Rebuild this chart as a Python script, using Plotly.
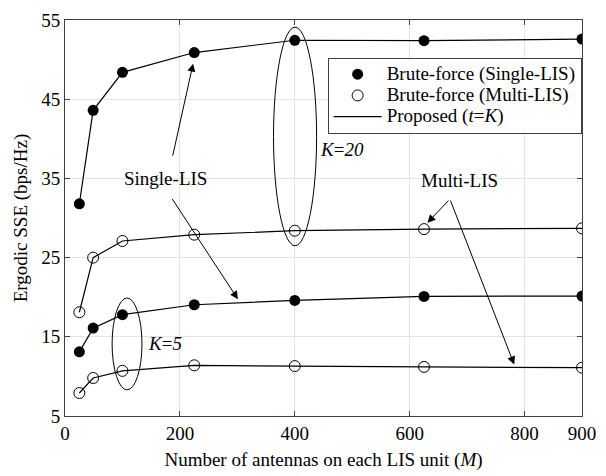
import plotly.graph_objects as go

# Number of antennas per LIS unit
M = [25, 49, 100, 225, 400, 625, 900]

# Ergodic SSE (bps/Hz)
single_k20 = [31.8, 43.6, 48.4, 50.9, 52.45, 52.4, 52.6]
multi_k20 = [18.1, 25.0, 27.1, 27.9, 28.4, 28.6, 28.7]
single_k5 = [13.1, 16.1, 17.8, 19.05, 19.6, 20.1, 20.15]
multi_k5 = [7.9, 9.8, 10.7, 11.4, 11.3, 11.2, 11.1]

x_ticks = [0, 200, 400, 600, 800, 900]
y_ticks = [5, 15, 25, 35, 45, 55]

FONT = "Liberation Serif, Times New Roman, serif"
INK = "black"


def big(s):
    # legend labels keep a compact row height but a larger glyph size
    return '<span style="font-size:19px">' + s + "</span>"


fig = go.Figure()

# proposed scheme (solid lines)
for i, ys in enumerate([single_k20, multi_k20, single_k5, multi_k5]):
    fig.add_trace(go.Scatter(
        x=M, y=ys, mode="lines",
        line=dict(color=INK, width=1.2),
        name=big("Proposed (<i>t</i>=<i>K</i>)"),
        showlegend=(i == 0), legendrank=3,
    ))

# brute-force, single LIS (filled markers)
for i, ys in enumerate([single_k20, single_k5]):
    fig.add_trace(go.Scatter(
        x=M, y=ys, mode="markers",
        marker=dict(symbol="circle", size=11, color=INK),
        name=big("Brute-force (Single-LIS)"),
        showlegend=(i == 0), legendrank=1,
    ))

# brute-force, multi LIS (open markers)
for i, ys in enumerate([multi_k20, multi_k5]):
    fig.add_trace(go.Scatter(
        x=M, y=ys, mode="markers",
        marker=dict(symbol="circle-open", size=11, color=INK, line=dict(width=1)),
        name=big("Brute-force (Multi-LIS)"),
        showlegend=(i == 0), legendrank=2,
    ))

axis_common = dict(
    showline=True, linecolor="#404040", linewidth=1, mirror="ticks",
    ticks="inside", ticklen=5, tickcolor="#404040",
    showgrid=True, gridcolor="#e3e3e3", gridwidth=1,
    zeroline=False,
    tickfont=dict(family=FONT, size=19, color=INK),
)

fig.update_xaxes(
    range=[0, 900.01], tickvals=x_ticks,
    title=dict(text="Number of antennas on each LIS unit (<i>M</i>)",
               font=dict(family=FONT, size=19, color=INK), standoff=9),
    **axis_common,
)
fig.update_yaxes(
    range=[4.999, 55.01], tickvals=y_ticks,
    title=dict(text="Ergodic SSE (bps/Hz)",
               font=dict(family=FONT, size=19, color=INK), standoff=8),
    **axis_common,
)

# grouping ellipses
fig.add_shape(type="circle", xref="x", yref="y", x0=363, x1=438, y0=26.5, y1=54.1,
              line=dict(color=INK, width=1))
fig.add_shape(type="circle", xref="x", yref="y", x0=82, x1=134, y0=8.3, y1=19.9,
              line=dict(color=INK, width=1))

txt = dict(family=FONT, size=19, color=INK)
labels = [
    ("Single-LIS", 175, 35.0),
    ("Multi-LIS", 686, 34.7),
    ("<i>K</i>=<i>20</i>", 483, 38.7),
    ("<i>K</i>=<i>5</i>", 174, 14.2),
]
for text, lx, ly in labels:
    fig.add_annotation(x=lx, y=ly, text=text, showarrow=False, font=txt,
                       xanchor="center", yanchor="middle")

# arrows: (head x, head y, tail x, tail y)
arrows = [
    (223, 49.5, 187, 37.7),
    (301, 19.75, 185, 32.6),
    (631, 29.4, 670, 32.4),
    (782, 11.5, 670, 32.4),
]
for hx, hy, tx, ty in arrows:
    fig.add_annotation(x=hx, y=hy, ax=tx, ay=ty, xref="x", yref="y",
                       axref="x", ayref="y", text="", showarrow=True,
                       arrowhead=2, arrowsize=1.6, arrowwidth=1,
                       arrowcolor=INK, standoff=0, startstandoff=0)

fig.update_layout(
    width=606, height=476,
    margin=dict(l=65, r=23, t=10, b=57),
    plot_bgcolor="white", paper_bgcolor="white",
    font=dict(family=FONT, size=19, color=INK),
    showlegend=True,
    legend=dict(
        x=0.508, y=0.905, xanchor="left", yanchor="top",
        bgcolor="white", bordercolor="#404040", borderwidth=1,
        font=dict(family=FONT, size=14, color=INK),
        itemwidth=48, tracegroupgap=0,
    ),
)

fig.write_html("out.html")
